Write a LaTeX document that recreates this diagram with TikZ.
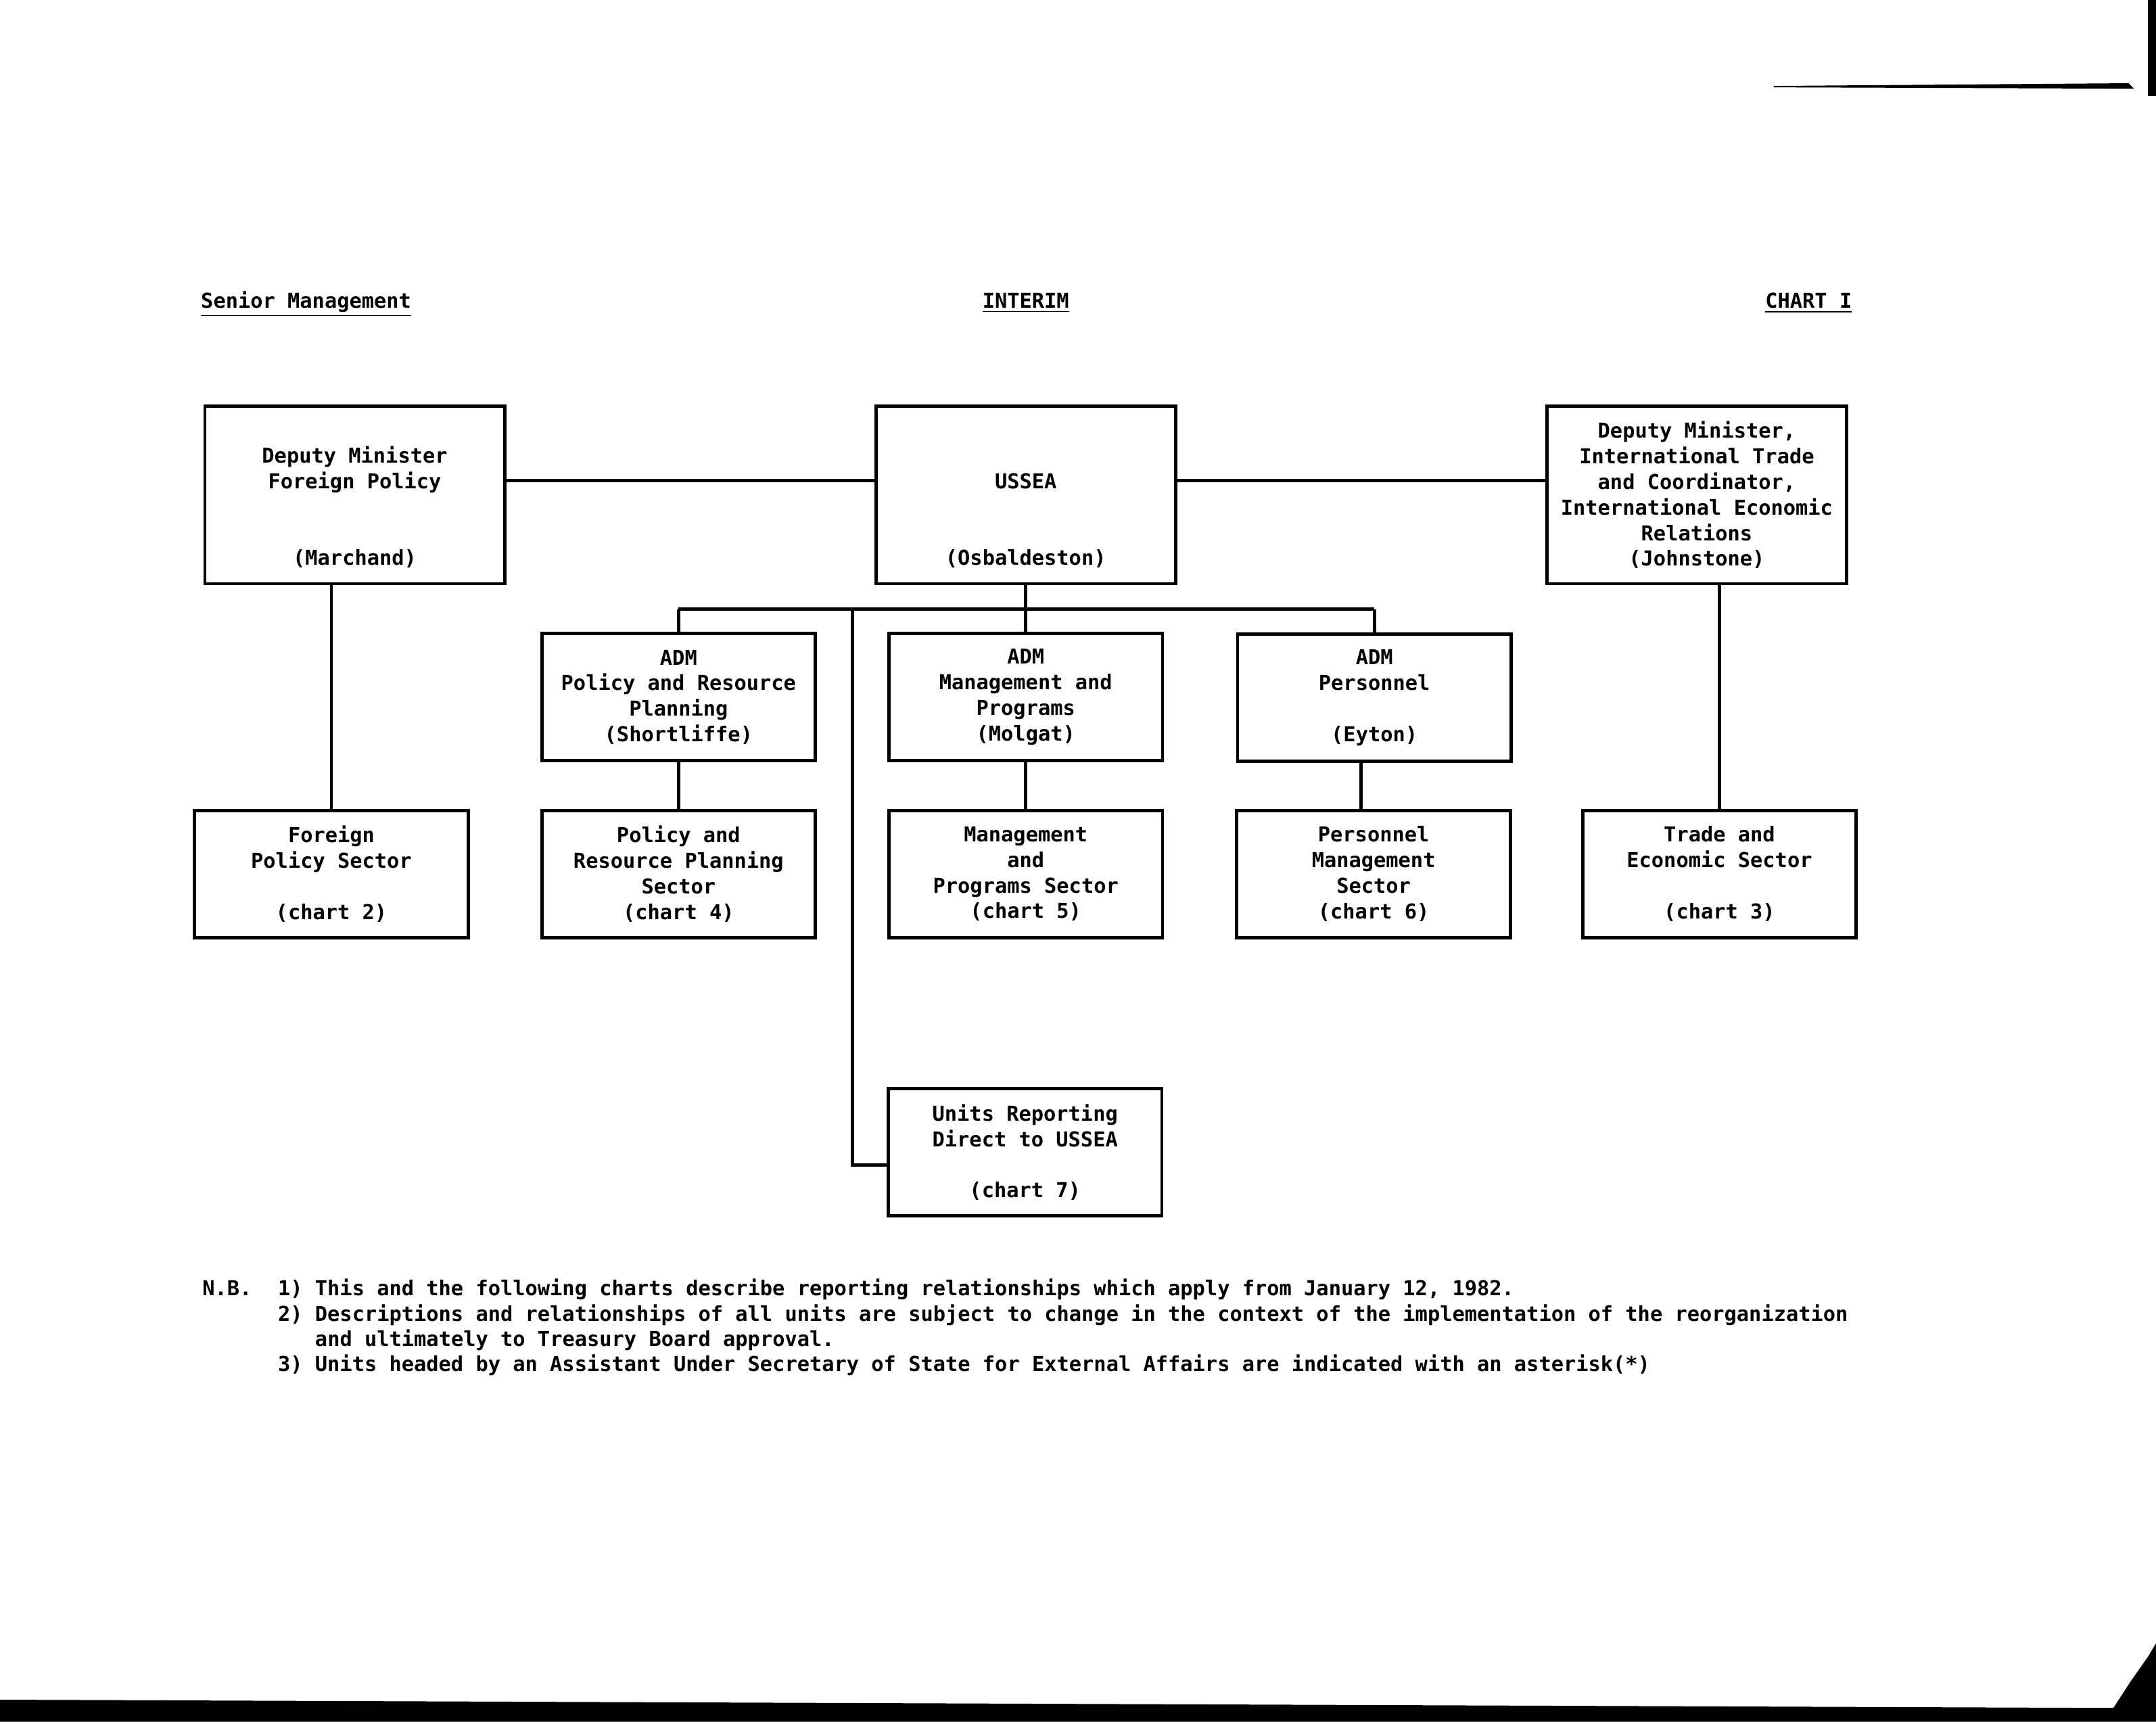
\documentclass[tikz,border=0pt]{standalone}
\usepackage{fontspec}
\setmonofont{DejaVu Sans Mono}
\usetikzlibrary{positioning}
\newcommand{\emptyline}{\vphantom{D}}

\begin{document}
\begin{tikzpicture}[x=0.02cm, y=-0.02cm, line width=1.35pt,
		every node/.style={font=\ttfamily\bfseries\fontsize{8.5}{10.6}\selectfont, align=center, inner sep=0pt},
		bigbox/.style={draw, minimum width=4.36cm, minimum height=2.58cm},
		smallbox/.style={draw, minimum width=3.98cm, minimum height=1.85cm}]
	\useasboundingbox (0,0) rectangle (1568,1252);

	% headings
	\node[anchor=base west] (senior) at (145,224) {\underline{Senior Management}};
	\node[anchor=base] (interim) at (746,224) {\underline{INTERIM}};
	\node[anchor=base east] (chart) at (1348,224) {\underline{CHART I}};

	% top row
	\node[bigbox] (dmfp) at (258,360) {\emptyline\\Deputy Minister\\Foreign Policy\\~\\~\\(Marchand)};
	\node[bigbox] (ussea) at (746,360) {\emptyline\\~\\USSEA\\~\\~\\(Osbaldeston)};
	\node[bigbox] (dmit) at (1234,360) {Deputy Minister,\\International Trade\\and Coordinator,\\International Economic\\Relations\\(Johnstone)};

	% ADM row
	\node[smallbox] (admprp) at (493.5,507) {ADM\\Policy and Resource\\Planning\\(Shortliffe)};
	\node[smallbox] (admmp) at (746,507) {ADM\\Management and\\Programs\\(Molgat)};
	\node[smallbox] (admpers) at (999.5,507.5) {ADM\\Personnel\\~\\(Eyton)};

	% sectors
	\node[smallbox] (fps) at (241,635.5) {Foreign\\Policy Sector\\~\\(chart 2)};
	\node[smallbox] (prps) at (493.5,635.5) {Policy and\\Resource Planning\\Sector\\(chart 4)};
	\node[smallbox] (mps) at (746,635.5) {Management\\and\\Programs Sector\\(chart 5)};
	\node[smallbox] (pms) at (999,635.5) {Personnel\\Management\\Sector\\(chart 6)};
	\node[smallbox] (tes) at (1250.5,635.5) {Trade and\\Economic Sector\\~\\(chart 3)};
	\node[smallbox] (units) at (745.5,838) {Units Reporting\\Direct to USSEA\\~\\(chart 7)};

	% connectors
	\draw ([yshift=0.21cm]dmfp.east) -- ([yshift=0.21cm]ussea.west);
	\draw ([yshift=0.21cm]ussea.east) -- ([yshift=0.21cm]dmit.west);
	\draw (fps.north |- dmfp.south) -- (fps.north);
	\draw (tes.north |- dmit.south) -- (tes.north);

	\coordinate (bus) at (746,443);
	\coordinate (ubranch) at (620,443);
	\draw (ussea.south) -- (bus);
	\draw (admprp.north |- bus) -- (admpers.north |- bus);
	\foreach \a in {admprp, admmp, admpers} {
		\draw (\a.north |- bus) -- (\a.north);
	}
	\foreach \a/\s in {admprp/prps, admmp/mps} {
		\draw (\a) -- (\s);
	}
	\draw ([xshift=-0.19cm]admpers.south) -- ([xshift=-0.19cm]admpers.south |- pms.north);
	\draw (ubranch) |- ([yshift=-0.18cm]units.west);

	% notes
	\node[anchor=base west] (nb) at (146,942) {N.B.};
	\node[anchor=base west] (note1) at (201,942) {1) This and the following charts describe reporting relationships which apply from January 12, 1982.};
	\node[anchor=base west] (note2) at (201,961) {2) Descriptions and relationships of all units are subject to change in the context of the implementation of the reorganization};
	\node[anchor=base west] (note2b) at (228,979) {and ultimately to Treasury Board approval.};
	\node[anchor=base west] (note3) at (201,997) {3) Units headed by an Assistant Under Secretary of State for External Affairs are indicated with an asterisk(*)};

	% scan edges
	\fill (0,1236) -- (1537,1242) -- (1550,1222) -- (1562,1205) -- (1568,1195) -- (1568,1252) -- (0,1252) -- cycle;
	\fill (1562,0) rectangle (1568,70);
	\fill (1290,62.5) -- (1548,60.5) -- (1552,64.5) -- (1290,63.5) -- cycle;
\end{tikzpicture}
\end{document}
